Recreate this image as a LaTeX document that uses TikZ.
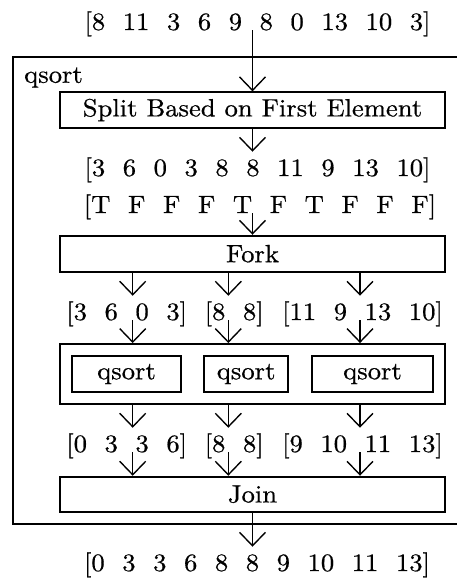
\documentclass[tikz,border=0pt]{standalone}
\usepackage{graphicx}
\usepackage{fontspec}
\setmainfont{Latin Modern Roman}[FakeBold=0.6]
\usetikzlibrary{arrows.meta}
\newcommand\sx[1]{\scalebox{1.065}[1]{#1}}
\newcommand\gp{\hspace{6.6pt}}
\tikzset{
  box/.style={draw, line width=0.75pt, inner sep=0pt},
  lst/.style={inner sep=2pt, anchor=base},
  arr/.style={line width=0.55pt, -{Straight Barb[length=5.4pt,width=10.4pt]}}
}
\begin{document}
\begin{tikzpicture}[x=0.4pt,y=-0.4pt]
\clip (0,0) rectangle (457,581);
% outer qsort frame
\node[box, minimum width=186.9pt, minimum height=186.8pt] (outer) at (246.35,290.2) {};
\node[inner sep=0pt] (qlabel) at (53.5,77.5) {\sx{qsort}};
% lists
\node[lst] (top) at (257.5,30) {\sx{[8\gp 11\gp 3\gp 6\gp 9\gp 8\gp 0\gp 13\gp 10\gp 3]}};
\node[lst] (l2) at (257.5,176) {\sx{[3\gp 6\gp 0\gp 3\gp 8\gp 8\gp 11\gp 9\gp 13\gp 10]}};
\node[lst] (tf) at (260,213) {\sx{[T\gp F\gp F\gp F\gp T\gp F\gp T\gp F\gp F\gp F]}};
\node[lst] (s1) at (126.7,320) {\sx{[3\gp 6\gp 0\gp 3]}};
\node[lst] (s2) at (234.2,320) {\sx{[8\gp 8]}};
\node[lst] (s3) at (362.5,320) {\sx{[11\gp 9\gp 13\gp 10]}};
\node[lst] (r1) at (126.7,452) {\sx{[0\gp 3\gp 3\gp 6]}};
\node[lst] (r2) at (234.2,452) {\sx{[8\gp 8]}};
\node[lst] (r3) at (362.5,452) {\sx{[9\gp 10\gp 11\gp 13]}};
\node[lst] (final) at (257,571) {\sx{[0\gp 3\gp 3\gp 6\gp 8\gp 8\gp 9\gp 10\gp 11\gp 13]}};
% boxes
\node[box, minimum width=154pt, minimum height=14.16pt] (split) at (252.5,110) {\sx{Split Based on First Element}};
\node[box, minimum width=154pt, minimum height=14.4pt] (fork) at (252.5,253.7) {\sx{Fork}};
\node[box, minimum width=154pt, minimum height=24pt] (cont) at (252.5,374) {};
\node[box, minimum width=43.36pt, minimum height=14.64pt] (q1) at (126.5,374) {\sx{qsort}};
\node[box, minimum width=33.72pt, minimum height=14.64pt] (q2) at (246.15,374) {\sx{qsort}};
\node[box, minimum width=48.16pt, minimum height=14.64pt] (q3) at (372.5,374) {\sx{qsort}};
\node[box, minimum width=154pt, minimum height=14pt] (join) at (252.5,494.2) {\sx{Join}};
% column positions
\coordinate (c1) at (132.7,0);
\coordinate (c2) at (228.3,0);
\coordinate (c3) at (360,0);
% connectors
\draw[arr] (top.base -| split.north) -- (split.north);
\draw[arr] (split.south) -- (l2.north -| split.south);
\draw[arr] (tf.base -| fork.north) -- (fork.north);
\foreach \i in {1,2,3}{
  \draw[arr] (fork.south -| c\i) -- (s\i.north -| c\i);
  \draw[arr] (s\i.base -| c\i) -- (cont.north -| c\i);
  \draw[arr] (cont.south -| c\i) -- (r\i.north -| c\i);
  \draw[arr] (r\i.base -| c\i) -- (join.north -| c\i);
}
\draw[arr] (join.south) -- (final.north -| join.south);
\end{tikzpicture}
\end{document}
